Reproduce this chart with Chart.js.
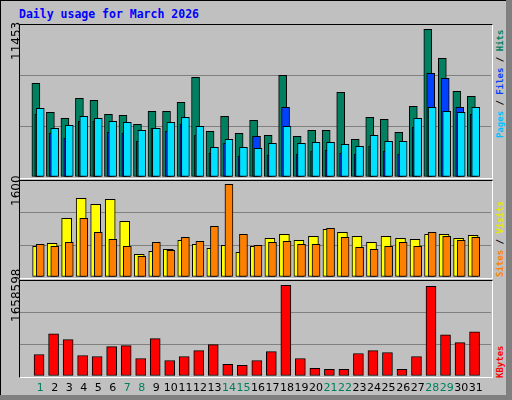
<!DOCTYPE html>
<html><head><meta charset="utf-8">
<script src="https://cdn.jsdelivr.net/npm/chart.js@4"></script>
<style>
html,body{margin:0;padding:0;width:512px;height:400px;overflow:hidden;background:#c0c0c0;}
.abs{position:absolute;}
.wrap{position:absolute;}
.panel{position:absolute;border-top:1px solid #000;border-left:1px solid #000;border-right:1px solid #fff;border-bottom:1px solid #fff;box-sizing:border-box;}
.vl{position:absolute;transform-origin:0 0;transform:rotate(-90deg);white-space:nowrap;font-family:"DejaVu Sans";font-size:12px;color:#000;}
.vr{position:absolute;transform-origin:0 0;transform:rotate(-90deg);white-space:nowrap;font-family:"DejaVu Sans Mono";font-size:9px;font-weight:bold;}
</style></head>
<body>
<div class="abs" style="left:0;top:0;width:506px;height:395px;border-left:1px solid #000;border-top:1px solid #000;box-sizing:border-box"></div>
<div class="abs" style="left:506px;top:0;width:6px;height:400px;background:#808080"></div>
<div class="abs" style="left:0;top:395px;width:512px;height:5px;background:#808080"></div>
<div class="abs" style="left:19px;top:7px;font-family:'DejaVu Sans Mono';font-weight:bold;font-size:11.5px;color:#0000ff">Daily usage for March 2026</div>

<div class="panel" style="left:19px;top:24px;width:474px;height:155px"></div>
<div class="panel" style="left:19px;top:180px;width:474px;height:99px"></div>
<div class="panel" style="left:19px;top:280px;width:474px;height:98px"></div>

<div class="wrap" style="left:20px;top:25px;width:471px;height:152px"><canvas id="c1"></canvas></div>
<div class="wrap" style="left:20px;top:181px;width:471px;height:96px"><canvas id="c2"></canvas></div>
<div class="wrap" style="left:20px;top:281px;width:471px;height:119px"><canvas id="c3"></canvas></div>

<div class="vl" style="left:9px;top:60px">11453</div>
<div class="vl" style="left:9px;top:206px">1600</div>
<div class="vl" style="left:9px;top:322px">1658598</div>

<div class="vr" style="left:495px;top:138px"><span style="color:#00c0ff">Pages</span> / <span style="color:#0040ff">Files</span> / <span style="color:#008060">Hits</span></div>
<div class="vr" style="left:495px;top:277px"><span style="color:#ff8000">Sites</span> / <span style="color:#e8e800">Visits</span></div>
<div class="vr" style="left:495px;top:378px"><span style="color:#ff0000">KBytes</span></div>

<script>
const days = Array.from({length:31},(_,i)=>i+1);
const weekendDays = [1,7,8,14,15,21,22,28,29];
const hits = [7060,4875,4423,5930,5779,4724,4649,3971,4950,4950,5629,7512,3443,4574,3293,4272,3142,7663,3067,3519,3519,6382,2841,4498,4348,3368,5327,11129,8944,6457,6081];
const files = [4724,3293,2916,4197,4197,3368,3293,2690,3670,3443,3971,3142,1786,2539,1560,3067,1635,5252,1710,1937,2012,1786,1710,2313,1937,1710,3745,7814,7437,5252,4724];
const pages = [5177,3670,3896,4574,4423,4197,4122,3519,3670,4122,4498,3820,2238,2841,2238,2163,2539,3820,2539,2615,2615,2464,2313,3142,2690,2690,4423,5252,4950,4875,5252];
const sites = [512,562,978,1312,1212,1295,928,378,428,462,612,545,478,528,412,512,645,712,612,678,795,745,678,578,678,645,628,712,712,645,695];
const visits = [545,512,578,978,745,628,512,345,578,445,662,595,845,1545,712,528,578,595,545,545,812,662,495,462,512,578,512,745,678,612,662];
const kbytes = [374900,737700,634100,357600,340400,513100,530400,305800,651300,271200,340400,444000,547700,202100,184900,271200,426700,1584300,305800,133000,115800,115800,392200,444000,409500,115800,340400,1567000,720500,582200,772300];
const maxTop = 11453, maxMid = 1600, maxBot = 1658598;

const pts = (arr, off) => arr.map((v,i)=>({x:days[i]+off, y:v}));
const ds = (arr, off, color, w) => ({data:pts(arr,off), backgroundColor:color, borderColor:'#000', borderWidth:1, borderSkipped:false, barThickness:w, grouped:false});

function yScale(max){
  return {min:0,max:max,display:true,
    afterBuildTicks:s=>{s.ticks=[0,max/3,2*max/3,max].map(v=>({value:v}));},
    afterFit:s=>{s.width=0;},
    ticks:{display:false},
    border:{display:false},
    grid:{drawTicks:false,color:c=>(c.index===1||c.index===2)?'#808080':'rgba(0,0,0,0)',lineWidth:1}};
}
function xScale(show){
  return {type:'linear',min:0.13,max:31.53,display:show,
    afterBuildTicks:s=>{s.ticks=days.map(v=>({value:v}));},
    afterFit:s=>{s.height=show?24:0;},
    border:{display:false},
    grid:{display:false,drawTicks:false},
    ticks:{autoSkip:false,maxRotation:0,padding:6,font:{family:'DejaVu Sans',size:11},
      color:c=>weekendDays.includes(c.tick.value)?'#00805c':'#000',
      callback:v=>String(v)}};
}
const base = (max, showX) => ({responsive:true,maintainAspectRatio:false,animation:false,
  layout:{padding:0},
  plugins:{legend:{display:false},tooltip:{enabled:false}},
  scales:{x:xScale(showX),y:yScale(max)}});

new Chart(document.getElementById('c1'),{type:'bar',
  data:{datasets:[ds(pages,0,'#00e0ff',8),ds(files,-0.1,'#0040ff',8),ds(hits,-0.3,'#008060',8)]},
  options:base(maxTop,false)});
new Chart(document.getElementById('c2'),{type:'bar',
  data:{datasets:[ds(visits,0,'#ff8000',8),ds(sites,-0.18,'#ffff00',10)]},
  options:base(maxMid,false)});
new Chart(document.getElementById('c3'),{type:'bar',
  data:{datasets:[ds(kbytes,-0.08,'#ff0000',10)]},
  options:base(maxBot,true)});
</script>
</body></html>
